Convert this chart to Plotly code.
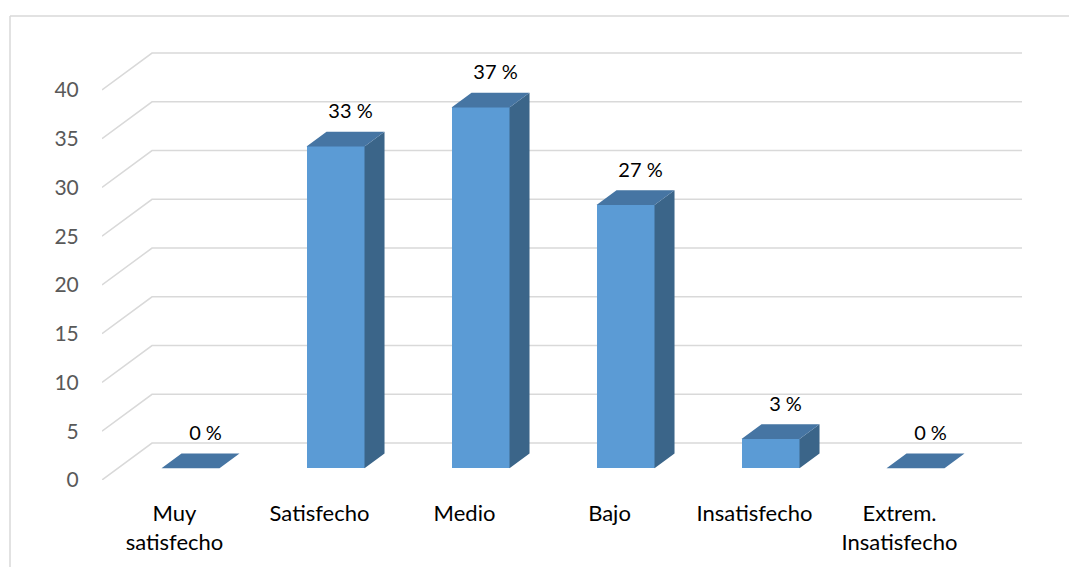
import plotly.graph_objects as go

# ---- data ----
categories = ["Muy<br>satisfecho", "Satisfecho", "Medio", "Bajo", "Insatisfecho", "Extrem.<br>Insatisfecho"]
values = [0, 33, 37, 27, 3, 0]
labels = ["0 %", "33 %", "37 %", "27 %", "3 %", "0 %"]
y_ticks = [0, 5, 10, 15, 20, 25, 30, 35, 40]

# ---- oblique-projection geometry (in axis units) ----
DX = 0.345      # full floor depth, x shift
DY = 3.79       # full floor depth, y shift
D_FRONT = 0.32  # depth fraction of bar front face
D_BACK = 0.72   # depth fraction of bar back face
HALF_W = 0.2    # half width of bar front face

FRONT = "#5B9BD5"
TOP = "#4675A3"
SIDE = "#3B6589"
GRID = "#D9D9D9"

# layout (figure pixels, body margin removed)
FW, FH = 1069, 567
ML, MT, PW, PH = 102, 40, 920, 440
MR = FW - ML - PW
MB = FH - MT - PH
PX_PER_CAT = 145.0
PX_PER_VAL = 9.75

fig = go.Figure()

# gridlines as shapes below traces
x_left = -0.5
x_right = -0.5 + PW / PX_PER_CAT - DX
shapes = []
for v in y_ticks:
    shapes.append(dict(type="path", xref="x", yref="y", layer="below",
                       path=f"M {x_left},{v} L {x_left + DX},{v + DY} L {x_right + DX},{v + DY}",
                       line=dict(color=GRID, width=1.5)))

# chart area border: only top and left edges are visible (cropped chart)
bx0 = (10 - ML) / PW
bx1 = (FW - ML) / PW
by_top = 1 + (MT - 16) / PH
by_bot = -MB / PH
shapes.append(dict(type="line", xref="paper", yref="paper", layer="below",
                   x0=bx0, x1=bx1, y0=by_top, y1=by_top,
                   line=dict(color=GRID, width=1.5)))
shapes.append(dict(type="line", xref="paper", yref="paper", layer="below",
                   x0=bx0, x1=bx0, y0=by_top, y1=by_bot,
                   line=dict(color=GRID, width=1.5)))

# front faces as bars
n = len(values)
xf = [i + D_FRONT * DX for i in range(n)]
fig.add_trace(go.Bar(x=xf, y=values, base=[D_FRONT * DY] * n, width=2 * HALF_W,
                     marker=dict(color=FRONT, line=dict(width=0)),
                     hoverinfo="skip", showlegend=False))

# top and side faces
dd = (D_BACK - D_FRONT)
tx, ty, sx, sy = [], [], [], []
for i, v in enumerate(values):
    x0 = xf[i] - HALF_W
    x1 = xf[i] + HALF_W
    yb = D_FRONT * DY
    yt = v + yb
    ox, oy = dd * DX, dd * DY
    tx += [x0, x1, x1 + ox, x0 + ox, x0, None]
    ty += [yt, yt, yt + oy, yt + oy, yt, None]
    if v > 0:
        sx += [x1, x1 + ox, x1 + ox, x1, x1, None]
        sy += [yb, yb + oy, yt + oy, yt, yb, None]
fig.add_trace(go.Scatter(x=sx, y=sy, mode="lines", fill="toself", fillcolor=SIDE,
                         line=dict(width=0, color=SIDE), hoverinfo="skip", showlegend=False))
fig.add_trace(go.Scatter(x=tx, y=ty, mode="lines", fill="toself", fillcolor=TOP,
                         line=dict(width=0, color=TOP), hoverinfo="skip", showlegend=False))

# data labels
fig.add_trace(go.Scatter(x=[x + 15 / PX_PER_CAT for x in xf], y=[v + D_FRONT * DY + 3.4 for v in values],
                         mode="text", text=labels,
                         textfont=dict(family="Lato", size=20, color="#000000"),
                         hoverinfo="skip", showlegend=False))

fig.update_layout(
    width=FW, height=FH,
    margin=dict(l=ML, r=MR, t=MT, b=MB),
    paper_bgcolor="white", plot_bgcolor="white",
    bargap=0,
    xaxis=dict(range=[-0.5, -0.5 + PW / PX_PER_CAT], tickvals=list(range(n)), ticktext=categories,
               showgrid=False, zeroline=False, showline=False,
               ticks="outside", ticklen=14, tickcolor="rgba(0,0,0,0)",
               tickfont=dict(family="Lato", size=22, color="#000000"), fixedrange=True),
    yaxis=dict(range=[0, PH / PX_PER_VAL], tickvals=y_ticks,
               showgrid=False, zeroline=False, showline=False,
               ticks="outside", ticklen=18, tickcolor="rgba(0,0,0,0)",
               tickfont=dict(family="Lato", size=21, color="#595959"), fixedrange=True),
    shapes=shapes,
)

fig.write_html(
    "out.html",
    config={"displayModeBar": False},
    post_script="document.body.style.margin='0';document.body.style.overflow='hidden';"
                "document.documentElement.style.overflow='hidden';",
)
